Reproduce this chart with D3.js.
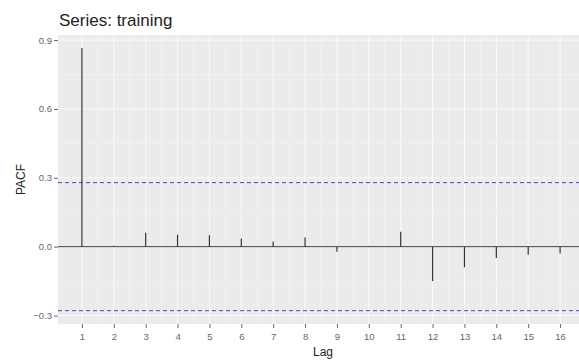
<!DOCTYPE html>
<html>
<head>
<meta charset="utf-8">
<script src="https://cdn.jsdelivr.net/npm/d3@7"></script>
<style>
  body { margin: 0; background: #fff; }
  text { font-family: "Liberation Sans", Arial, sans-serif; }
</style>
</head>
<body>
<svg id="chart" width="579" height="362"></svg>
<script>
// PACF values
const lags = [1, 2, 3, 4, 5, 6, 7, 8, 9, 10, 11, 12, 13, 14, 15, 16]
const pacf = [0.865, 0.004, 0.06, 0.052, 0.05, 0.035, 0.022, 0.04, -0.022, 0.003, 0.065, -0.15, -0.09, -0.05, -0.035, -0.03]
const ci = 0.279
const yTicks = [-0.3, 0.0, 0.3, 0.6, 0.9]

const svg = d3.select('#chart')
const pLeft = 58, pTop = 35, pRight = 584, pBottom = 324

const x = d3.scaleLinear().domain([0.25, 16.75]).range([pLeft, pRight])
const y = d3.scaleLinear().domain([-0.337, 0.922]).range([pBottom, pTop])

svg.append('rect')
  .attr('x', pLeft).attr('y', pTop)
  .attr('width', pRight - pLeft).attr('height', pBottom - pTop)
  .attr('fill', '#ebebeb')

const grid = svg.append('g')
// minor grid
const yMinor = yTicks.slice(0, -1).map((d, i) => (d + yTicks[i + 1]) / 2)
grid.selectAll('.ymin').data(yMinor).enter().append('line')
  .attr('x1', pLeft).attr('x2', pRight)
  .attr('y1', d => y(d)).attr('y2', d => y(d))
  .attr('stroke', '#f5f5f5').attr('stroke-width', 0.6)
const xMinor = lags.slice(0, -1).map(d => d + 0.5)
grid.selectAll('.xmin').data(xMinor).enter().append('line')
  .attr('y1', pTop).attr('y2', pBottom)
  .attr('x1', d => x(d)).attr('x2', d => x(d))
  .attr('stroke', '#f5f5f5').attr('stroke-width', 0.6)
// major grid
grid.selectAll('.ymaj').data(yTicks).enter().append('line')
  .attr('x1', pLeft).attr('x2', pRight)
  .attr('y1', d => y(d)).attr('y2', d => y(d))
  .attr('stroke', '#fafafa').attr('stroke-width', 1)
grid.selectAll('.xmaj').data(lags).enter().append('line')
  .attr('y1', pTop).attr('y2', pBottom)
  .attr('x1', d => x(d)).attr('x2', d => x(d))
  .attr('stroke', '#fafafa').attr('stroke-width', 1)

// zero line
svg.append('line')
  .attr('x1', pLeft).attr('x2', pRight)
  .attr('y1', y(0)).attr('y2', y(0))
  .attr('stroke', '#444').attr('stroke-width', 1)

// spikes
svg.selectAll('.spike').data(lags).enter().append('line')
  .attr('x1', d => x(d)).attr('x2', d => x(d))
  .attr('y1', y(0)).attr('y2', (d, i) => y(pacf[i]))
  .attr('stroke', '#333').attr('stroke-width', 1.2)

// confidence bounds
svg.selectAll('.ci').data([ci, -ci]).enter().append('line')
  .attr('x1', pLeft).attr('x2', pRight)
  .attr('y1', d => y(d)).attr('y2', d => y(d))
  .attr('stroke', '#4848c8').attr('stroke-width', 1)
  .attr('stroke-dasharray', '4,3')

// axes
const yAxis = svg.append('g')
  .attr('transform', `translate(${pLeft},0)`)
  .call(d3.axisLeft(y).tickValues(yTicks).tickFormat(d3.format('.1f')).tickSize(4).tickPadding(2))
const xAxis = svg.append('g')
  .attr('transform', `translate(0,${pBottom})`)
  .call(d3.axisBottom(x).tickValues(lags).tickSize(4).tickPadding(5))
;[xAxis, yAxis].forEach(a => {
  a.select('.domain').remove()
  a.selectAll('line').attr('stroke', '#666')
  a.selectAll('text').attr('fill', '#666').style('font-size', '9.5px')
    .style('font-family', '"Liberation Sans", Arial, sans-serif')
})

svg.append('text')
  .attr('x', (pLeft + pRight) / 2 + 2).attr('y', 356)
  .attr('text-anchor', 'middle')
  .style('font-size', '12px').attr('fill', '#222')
  .text('Lag')

svg.append('text')
  .attr('transform', `translate(25,${(pTop + pBottom) / 2}) rotate(-90)`)
  .attr('text-anchor', 'middle')
  .style('font-size', '12px').attr('fill', '#222')
  .text('PACF')

svg.append('text')
  .attr('x', pLeft + 1).attr('y', 26)
  .style('font-size', '17px').attr('fill', '#222')
  .text('Series: training')
</script>
</body>
</html>
